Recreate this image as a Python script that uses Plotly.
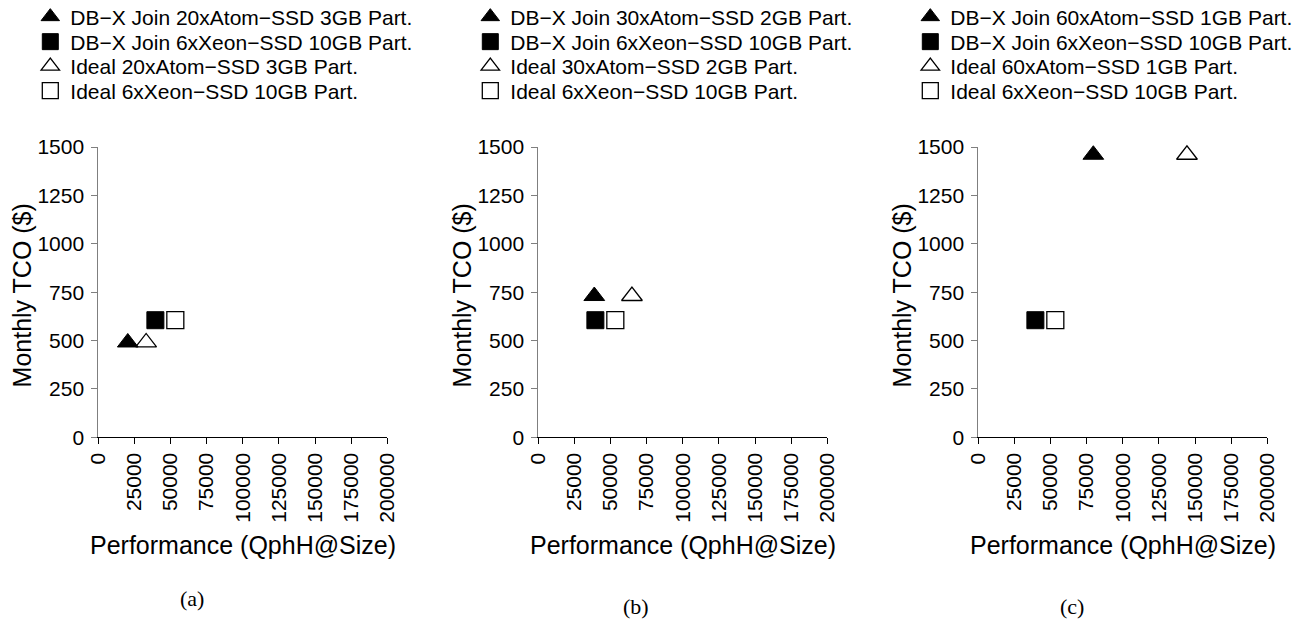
import plotly.graph_objects as go

W, H = 1307, 623

# ---------------- data ----------------
panels = ["(a)", "(b)", "(c)"]
atom_labels = ["20xAtom\u2212SSD 3GB Part.", "30xAtom\u2212SSD 2GB Part.", "60xAtom\u2212SSD 1GB Part."]
xeon_label = "6xXeon\u2212SSD 10GB Part."

dbx_atom_perf = [20400, 38750, 79600]
dbx_atom_tco = [490, 730, 1460]
dbx_xeon_perf = [39500, 39500, 39500]
dbx_xeon_tco = [605, 605, 605]
ideal_atom_perf = [33100, 64800, 144400]
ideal_atom_tco = [490, 730, 1460]
ideal_xeon_perf = [53300, 53300, 53300]
ideal_xeon_tco = [605, 605, 605]

x_ticks = [0, 25000, 50000, 75000, 100000, 125000, 150000, 175000, 200000]
y_ticks = [0, 250, 500, 750, 1000, 1250, 1500]

# ---------------- layout geometry (window pixels) ----------------
plot_left = [98.3, 538.3, 978.3]
plot_w = 289.0
plot_top, plot_bot = 147.0, 437.3
legend_rows = [17, 42, 66.5, 91]

FONT = "Liberation Sans, Arial, sans-serif"
TICK_FS = 21
TITLE_FS = 25
LEG_FS = 21

fig = go.Figure()
layout = dict(
    width=W, height=H,
    margin=dict(l=0, r=0, t=0, b=0, autoexpand=False),
    paper_bgcolor="white", plot_bgcolor="white",
    font=dict(family=FONT, size=TICK_FS, color="black"),
    showlegend=True,
    annotations=[],
)

def px_x(p):
    return p / W

def px_y(p):
    return 1 - p / H

leg_idx = 0
for i in range(3):
    xa = "x" if i == 0 else f"x{i+1}"
    ya = "y" if i == 0 else f"y{i+1}"
    series = [
        ("DB\u2212X Join " + atom_labels[i], dbx_atom_perf[i], dbx_atom_tco[i], "triangle-up", 1),
        ("DB\u2212X Join " + xeon_label, dbx_xeon_perf[i], dbx_xeon_tco[i], "square", 1),
        ("Ideal " + atom_labels[i], ideal_atom_perf[i], ideal_atom_tco[i], "triangle-up-open", 1.3),
        ("Ideal " + xeon_label, ideal_xeon_perf[i], ideal_xeon_tco[i], "square-open", 1.3),
    ]
    for k, (name, xv, yv, sym, lw) in enumerate(series):
        leg_idx += 1
        lname = "legend" if leg_idx == 1 else f"legend{leg_idx}"
        size = 18 if sym.startswith("triangle") else 17
        fig.add_trace(go.Scatter(
            x=[xv], y=[yv], mode="markers", name=name,
            xaxis=xa, yaxis=ya, legend=lname,
            cliponaxis=False,
            marker=dict(symbol=sym, size=size, color="black",
                        line=dict(color="black", width=lw)),
        ))
        layout[lname] = dict(
            x=px_x(plot_left[i] - 68), xanchor="left",
            y=px_y(legend_rows[k]), yanchor="middle",
            bgcolor="rgba(0,0,0,0)", borderwidth=0,
            font=dict(family=FONT, size=LEG_FS, color="black"),
            itemsizing="trace",
        )

    xd = [px_x(plot_left[i]), px_x(plot_left[i] + plot_w)]
    yd = [px_y(plot_bot), px_y(plot_top)]
    xkey = "xaxis" if i == 0 else f"xaxis{i+1}"
    ykey = "yaxis" if i == 0 else f"yaxis{i+1}"
    layout[xkey] = dict(
        domain=xd, anchor=ya, range=[0, 200000],
        tickmode="array", tickvals=x_ticks, ticktext=[str(v) for v in x_ticks],
        tickangle=-90, ticks="outside", ticklen=6, tickcolor="black",
        showline=True, linecolor="black", linewidth=1,
        showgrid=False, zeroline=False,
        tickfont=dict(family=FONT, size=TICK_FS, color="black"),
    )
    layout[ykey] = dict(
        domain=yd, anchor=xa, range=[0, 1500],
        tickmode="array", tickvals=y_ticks, ticktext=[str(v) for v in y_ticks],
        ticks="outside", ticklen=6, tickcolor="#7f7f7f", ticklabelstandoff=3,
        showline=True, linecolor="#7f7f7f", linewidth=1,
        showgrid=False, zeroline=False,
        tickfont=dict(family=FONT, size=TICK_FS, color="black"),
    )
    # axis titles
    layout["annotations"].append(dict(
        text="Monthly TCO ($)", textangle=-90,
        x=px_x(plot_left[i] - 76), y=px_y((plot_top + plot_bot) / 2 + 3),
        xref="paper", yref="paper", xanchor="center", yanchor="middle",
        showarrow=False, font=dict(family=FONT, size=TITLE_FS, color="black"),
    ))
    layout["annotations"].append(dict(
        text="Performance (QphH@Size)",
        x=px_x(plot_left[i] + plot_w / 2), y=px_y(545),
        xref="paper", yref="paper", xanchor="center", yanchor="middle",
        showarrow=False, font=dict(family=FONT, size=TITLE_FS, color="black"),
    ))
    layout["annotations"].append(dict(
        text=panels[i],
        x=px_x([192, 636, 1072][i]), y=px_y([598, 606, 606][i]),
        xref="paper", yref="paper", xanchor="center", yanchor="middle",
        showarrow=False,
        font=dict(family="Liberation Serif, Times New Roman, serif", size=22, color="black"),
    ))

fig.update_layout(**layout)
fig.write_html("out.html", config={"displayModeBar": False},
               post_script="document.body.style.margin='0';")
